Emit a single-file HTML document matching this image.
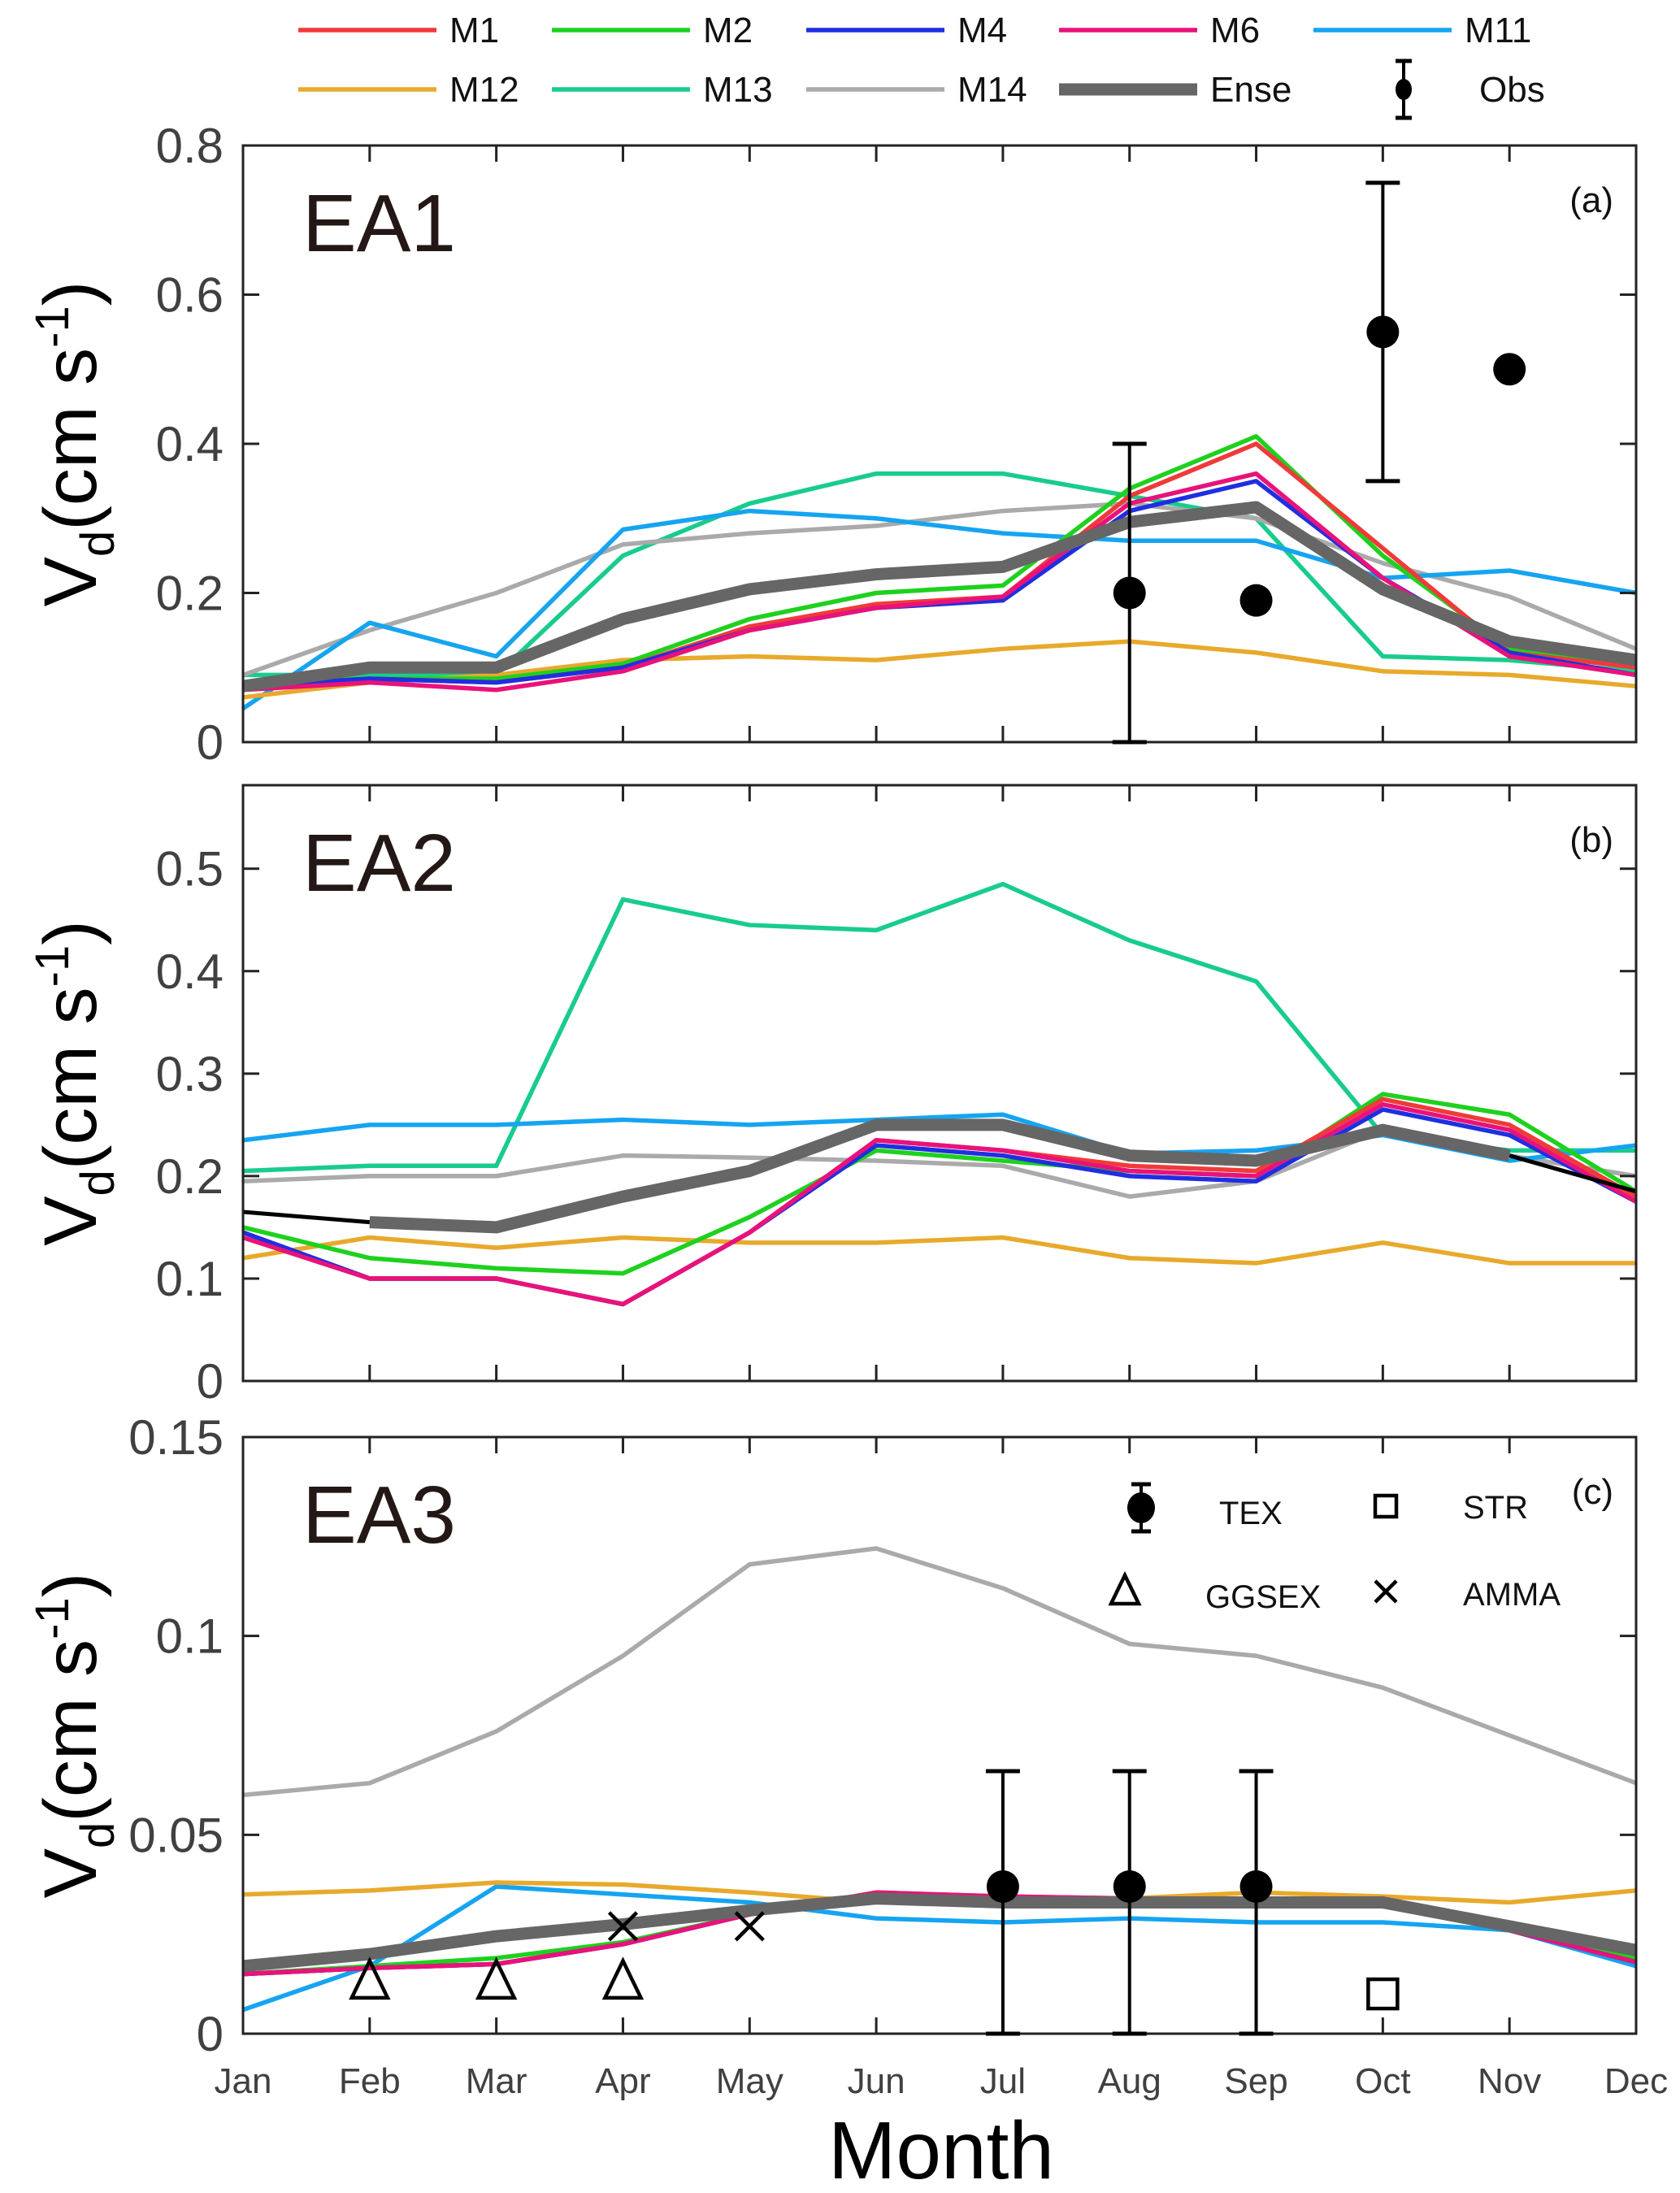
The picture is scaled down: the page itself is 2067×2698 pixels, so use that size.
<!DOCTYPE html>
<html><head><meta charset="utf-8">
<style>
html,body{margin:0;padding:0;background:#fff;}
svg{display:block;}
text{font-family:"Liberation Sans",sans-serif;}
</style></head>
<body>
<svg id="fig" width="2067" height="2698" viewBox="0 0 2067 2698" xmlns="http://www.w3.org/2000/svg"></svg>
<script>
const months = ["Jan","Feb","Mar","Apr","May","Jun","Jul","Aug","Sep","Oct","Nov","Dec"];
const seriesNames = ["M1","M2","M4","M6","M11","M12","M13","M14","Ense"];
const seriesColors = ["#f03a3a","#1ed11e","#1f2fe0","#e8127a","#16a4f0","#e8a92c","#19cc8c","#aaaaaa","#666666"];
// Panel (a) EA1
const a_M1  =[0.075,0.085,0.08,0.10,0.155,0.185,0.195,0.33,0.40,0.26,0.12,0.10];
const a_M2  =[0.08,0.085,0.085,0.105,0.165,0.20,0.21,0.34,0.41,0.25,0.125,0.10];
const a_M4  =[0.075,0.085,0.08,0.10,0.15,0.18,0.19,0.31,0.35,0.22,0.12,0.09];
const a_M6  =[0.07,0.08,0.07,0.095,0.15,0.18,0.195,0.32,0.36,0.22,0.115,0.09];
const a_M11 =[0.045,0.16,0.115,0.285,0.31,0.30,0.28,0.27,0.27,0.22,0.23,0.20];
const a_M12 =[0.06,0.08,0.09,0.11,0.115,0.11,0.125,0.135,0.12,0.095,0.09,0.075];
const a_M13 =[0.09,0.09,0.09,0.25,0.32,0.36,0.36,0.33,0.30,0.115,0.11,0.095];
const a_M14 =[0.09,0.15,0.20,0.265,0.28,0.29,0.31,0.32,0.30,0.24,0.195,0.125];
const a_Ense=[0.075,0.10,0.10,0.165,0.205,0.225,0.235,0.295,0.315,0.205,0.135,0.11];
const a_obsMonth=[8,9,10,11];
const a_obsVal=[0.2,0.19,0.55,0.5];
const a_obsLo=[0,null,0.35,null];
const a_obsHi=[0.4,null,0.75,null];
const a_ticks=[0,0.2,0.4,0.6,0.8];
const a_tickLabels=["0","0.2","0.4","0.6","0.8"];
// Panel (b) EA2
const b_M1  =[0.145,0.10,0.10,0.075,0.145,0.235,0.225,0.21,0.205,0.275,0.25,0.18];
const b_M2  =[0.15,0.12,0.11,0.105,0.16,0.225,0.215,0.205,0.20,0.28,0.26,0.185];
const b_M4  =[0.145,0.10,0.10,0.075,0.145,0.23,0.22,0.20,0.195,0.265,0.24,0.175];
const b_M6  =[0.14,0.10,0.10,0.075,0.145,0.235,0.225,0.205,0.20,0.27,0.245,0.175];
const b_M11 =[0.235,0.25,0.25,0.255,0.25,0.255,0.26,0.222,0.225,0.24,0.215,0.23];
const b_M12 =[0.12,0.14,0.13,0.14,0.135,0.135,0.14,0.12,0.115,0.135,0.115,0.115];
const b_M13 =[0.205,0.21,0.21,0.47,0.445,0.44,0.485,0.43,0.39,0.24,0.225,0.225];
const b_M14 =[0.195,0.20,0.20,0.22,0.218,0.215,0.21,0.18,0.195,0.245,0.22,0.20];
const b_Ense=[0.165,0.155,0.15,0.18,0.205,0.25,0.25,0.22,0.215,0.245,0.22,0.185];
const b_ticks=[0,0.1,0.2,0.3,0.4,0.5];
const b_tickLabels=["0","0.1","0.2","0.3","0.4","0.5"];
// Panel (c) EA3
const c_M1  =[0.015,0.0165,0.0175,0.0225,0.030,0.0355,0.0345,0.034,0.0335,0.033,0.026,0.018];
const c_M2  =[0.015,0.017,0.019,0.023,0.030,0.035,0.034,0.033,0.033,0.033,0.026,0.019];
const c_M4  =[0.015,0.0165,0.0175,0.0225,0.030,0.035,0.034,0.0335,0.033,0.033,0.026,0.018];
const c_M6  =[0.015,0.0165,0.0175,0.0225,0.030,0.0355,0.0345,0.034,0.0335,0.033,0.026,0.018];
const c_M11 =[0.006,0.017,0.037,0.035,0.033,0.029,0.028,0.029,0.028,0.028,0.026,0.017];
const c_M12 =[0.035,0.036,0.038,0.0375,0.0355,0.033,0.033,0.034,0.0355,0.0345,0.033,0.036];
const c_M13 =[0.015,0.017,0.019,0.023,0.030,0.035,0.034,0.033,0.033,0.033,0.026,0.019];
const c_M14 =[0.060,0.063,0.076,0.095,0.118,0.122,0.112,0.098,0.095,0.087,0.075,0.063];
const c_Ense=[0.017,0.020,0.0245,0.0275,0.031,0.034,0.033,0.033,0.033,0.033,0.027,0.021];
const c_texMonth=[7,8,9];
const c_texVal=[0.037,0.037,0.037];
const c_texLo=[0,0,0];
const c_texHi=[0.066,0.066,0.066];
const c_ggsexMonth=[2,3,4];
const c_ggsexVal=[0.013,0.013,0.013];
const c_ammaMonth=[4,5];
const c_ammaVal=[0.027,0.027];
const c_strMonth=[10];
const c_strVal=[0.01];
const c_ticks=[0,0.05,0.1,0.15];
const c_tickLabels=["0","0.05","0.1","0.15"];

const NS="http://www.w3.org/2000/svg";
const svg=document.getElementById('fig');
function mk(tag,attrs,parent){const e=document.createElementNS(NS,tag);for(const k in attrs)e.setAttribute(k,attrs[k]);(parent||svg).appendChild(e);return e;}
const X0=299,X1=2013;
function xM(m){return X0+(m-1)*(X1-X0)/11;}

const panels=[
 {id:'a',top:179,bot:913,ymax:0.8,label:'EA1',tag:'(a)',data:[a_M1,a_M2,a_M4,a_M6,a_M11,a_M12,a_M13,a_M14,a_Ense],ticks:a_ticks,tl:a_tickLabels},
 {id:'b',top:966,bot:1699,ymax:0.5815,label:'EA2',tag:'(b)',data:[b_M1,b_M2,b_M4,b_M6,b_M11,b_M12,b_M13,b_M14,b_Ense],ticks:b_ticks,tl:b_tickLabels},
 {id:'c',top:1768,bot:2502,ymax:0.15,label:'EA3',tag:'(c)',data:[c_M1,c_M2,c_M4,c_M6,c_M11,c_M12,c_M13,c_M14,c_Ense],ticks:c_ticks,tl:c_tickLabels}
];
const order=[6,7,4,5,1,0,2,3,8];
panels.forEach(p=>{
  const g=mk('g',{});
  
  
  const yS=v=>p.bot-(v/p.ymax)*(p.bot-p.top);
  p.yS=yS;
  order.forEach(i=>{
    if(p.id==='c' && seriesNames[i]==='M13') return;
    const arr=p.data[i];
    let pts=arr.map((v,k)=>xM(k+1)+','+yS(v));
    if(p.id==='b' && seriesNames[i]==='Ense'){
      const bl1=mk('polyline',{points:pts.slice(0,2).join(' '),fill:'none',stroke:'#000','stroke-width':5},g);
      
      
      const bl2=mk('polyline',{points:pts.slice(10).join(' '),fill:'none',stroke:'#000','stroke-width':5},g);
      
      
      pts=pts.slice(1,11);
    }
    const ln=mk('polyline',{points:pts.join(' '),fill:'none',stroke:seriesColors[i],'stroke-width':seriesNames[i]==='Ense'?15:5.5,'stroke-linejoin':'round'},g);
    
    
  });
  const box=mk('rect',{x:X0,y:p.top,width:X1-X0,height:p.bot-p.top,fill:'none',stroke:'#222','stroke-width':3},g);
  
  
  for(let m=1;m<=12;m++){
    mk('line',{x1:xM(m),y1:p.bot,x2:xM(m),y2:p.bot-20,stroke:'#222','stroke-width':3},g);
    mk('line',{x1:xM(m),y1:p.top,x2:xM(m),y2:p.top+20,stroke:'#222','stroke-width':3},g);
  }
  p.ticks.forEach((t,k)=>{
    const y=yS(t);
    mk('line',{x1:X0,y1:y,x2:X0+20,y2:y,stroke:'#222','stroke-width':3},g);
    mk('line',{x1:X1,y1:y,x2:X1-20,y2:y,stroke:'#222','stroke-width':3},g);
    const tx=mk('text',{x:275,y:y+21,'text-anchor':'end','font-size':60,fill:'#404040'},g);
    tx.textContent=p.tl[k];
    
    
  });
  const lab=mk('text',{x:372,y:p.top+130,'font-size':100,fill:'#231815'},g);
  lab.textContent=p.label;
  
  
  const tg=mk('text',{x:1985,y:p.top+82,'text-anchor':'end','font-size':44,fill:'#111'},g);
  tg.textContent=p.tag;
  
  
  const yt=mk('text',{transform:`translate(118,${(p.top+p.bot)/2}) rotate(-90)`,'text-anchor':'middle','font-size':92,fill:'#000'},g);
  yt.innerHTML='V<tspan font-size="58" dy="22">d</tspan><tspan dy="-22">(cm s</tspan><tspan font-size="58" dy="-34">-1</tspan><tspan dy="34">)</tspan>';
  
  
});
function errbar(x,lo,hi,yS,name){
  const g=mk('g',{});
  
  
  mk('line',{x1:x,y1:yS(lo),x2:x,y2:yS(hi),stroke:'#000','stroke-width':4},g);
  mk('line',{x1:x-21,y1:yS(lo),x2:x+21,y2:yS(lo),stroke:'#000','stroke-width':5},g);
  mk('line',{x1:x-21,y1:yS(hi),x2:x+21,y2:yS(hi),stroke:'#000','stroke-width':5},g);
}
const pa=panels[0];
a_obsMonth.forEach((m,k)=>{
  if(a_obsLo[k]!==null) errbar(xM(m),a_obsLo[k],a_obsHi[k],pa.yS,'obs-errorbar');
  const c=mk('circle',{cx:xM(m),cy:pa.yS(a_obsVal[k]),r:20,fill:'#000'});
  
  
});
const pc=panels[2];
c_texMonth.forEach((m,k)=>{
  errbar(xM(m),c_texLo[k],c_texHi[k],pc.yS,'tex-errorbar');
  const c=mk('circle',{cx:xM(m),cy:pc.yS(c_texVal[k]),r:20,fill:'#000'});
  
  
});
function tri(cx,cy,s,name){
  const t=mk('polygon',{points:`${cx},${cy-s} ${cx-s*0.85},${cy+s*0.75} ${cx+s*0.85},${cy+s*0.75}`,fill:'none',stroke:'#000','stroke-width':4.5});
  
  
}
function cross(cx,cy,s,name){
  const t=mk('path',{d:`M${cx-s},${cy-s}L${cx+s},${cy+s}M${cx-s},${cy+s}L${cx+s},${cy-s}`,stroke:'#000','stroke-width':4.5});
  
  
}
function sq(cx,cy,s,name){
  const t=mk('rect',{x:cx-s,y:cy-s,width:2*s,height:2*s,fill:'none',stroke:'#000','stroke-width':4.5});
  
  
}
c_ggsexMonth.forEach((m,k)=>tri(xM(m),pc.yS(c_ggsexVal[k]),26,'ggsex-point'));
c_ammaMonth.forEach((m,k)=>cross(xM(m),pc.yS(c_ammaVal[k]),17,'amma-point'));
c_strMonth.forEach((m,k)=>sq(xM(m),pc.yS(c_strVal[k]),18,'str-point'));
months.forEach((mn,k)=>{
  const t=mk('text',{x:xM(k+1),y:2575,'text-anchor':'middle','font-size':44,fill:'#404040'});
  t.textContent=mn;
  
  
});
const legX=[367,679,992,1303,1616];
const legY=[37,110];
seriesNames.forEach((nm,i)=>{
  const col=i%5,row=Math.floor(i/5);
  const g=mk('g',{});
  
  
  mk('line',{x1:legX[col],y1:legY[row],x2:legX[col]+170,y2:legY[row],stroke:seriesColors[i],'stroke-width':nm==='Ense'?15:5.5},g);
  const t=mk('text',{x:legX[col]+186,y:legY[row]+15,'font-size':44,fill:'#111'},g);
  t.textContent=nm;
});
{
  const g=mk('g',{});
  
  
  mk('line',{x1:1727,y1:75,x2:1727,y2:145,stroke:'#000','stroke-width':4},g);
  mk('line',{x1:1717,y1:75,x2:1737,y2:75,stroke:'#000','stroke-width':5},g);
  mk('line',{x1:1717,y1:145,x2:1737,y2:145,stroke:'#000','stroke-width':5},g);
  mk('ellipse',{cx:1727,cy:110,rx:10,ry:13,fill:'#000'},g);
  const t=mk('text',{x:1820,y:125,'font-size':44,fill:'#111'},g);
  t.textContent='Obs';
}
{
  const g=mk('g',{});
  
  
  mk('line',{x1:1404,y1:1826,x2:1404,y2:1884,stroke:'#000','stroke-width':4},g);
  mk('line',{x1:1392,y1:1826,x2:1416,y2:1826,stroke:'#000','stroke-width':5},g);
  mk('line',{x1:1392,y1:1884,x2:1416,y2:1884,stroke:'#000','stroke-width':5},g);
  mk('ellipse',{cx:1404,cy:1855,rx:17,ry:19,fill:'#000'},g);
  const labs=[["TEX",1500,1875],["STR",1800,1868],["GGSEX",1483,1978],["AMMA",1800,1975]];
  labs.forEach(l=>{const t=mk('text',{x:l[1],y:l[2],'font-size':40,fill:'#111'},g);t.textContent=l[0];});
}
tri(1384,1958,20,'ggsex-legend-marker');
cross(1705,1958,13,'amma-legend-marker');
sq(1705,1853,13,'str-legend-marker');
const xt=mk('text',{x:1158,y:2680,'text-anchor':'middle','font-size':100,fill:'#000'});
xt.textContent='Month';


</script>
</body></html>
